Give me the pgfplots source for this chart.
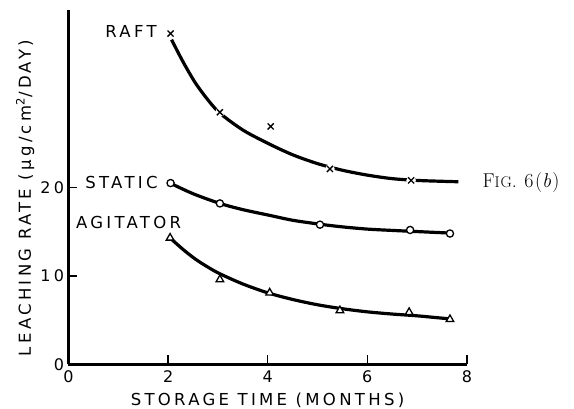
\documentclass[border=0pt]{standalone}
\usepackage{pgfplots}
\pgfplotsset{compat=1.18}
\usepackage{fontspec}
\newfontfamily\lab[LetterSpace=20]{DejaVu Sans}
\newfontfamily\figfont[LetterSpace=7]{Latin Modern Roman}
\begin{document}
\begin{tikzpicture}
\useasboundingbox (-68.5pt,-44.5pt) rectangle (505.5pt,364.5pt);
\begin{axis}[
  at={(0,0)}, anchor=south west,
  scale only axis, width=398.4pt, height=354pt,
  xmin=0, xmax=8, ymin=0, ymax=40,
  axis x line*=bottom, axis y line*=left,
  axis line style={-, line width=2.8pt},
  xtick={0,2,4,6,8}, ytick={0,10,20},
  tick align=inside, major tick length=9pt,
  tick style={line width=1.5pt, black},
  /pgf/number format/assume math mode=true,
  ticklabel style={font=\lab\fontsize{16}{16}\selectfont},
  xticklabel style={yshift=-3pt},
  yticklabel style={xshift=-1pt},
  xlabel={STORAGE TIME (MONTHS)},
  ylabel={LEACHING RATE (μg/cm\textsuperscript{2}/DAY)},
  every axis x label/.style={at={(rel axis cs:0.4995,-0.1003)}, anchor=center, font=\lab\fontsize{16.5}{16.5}\selectfont},
  every axis y label/.style={at={(rel axis cs:-0.109,0.470)}, rotate=90, anchor=center, font=\lab\fontsize{16.5}{16.5}\selectfont},
  clip=false,
]
% fitted curves
\addplot[smooth, line width=3.2pt] coordinates {
 (2.07,36.7) (2.3,34.2) (2.55,31.8) (2.8,29.9) (3.04,28.4) (3.5,26.5) (4.0,25.0) (4.5,23.7) (5.0,22.7) (5.5,21.95) (6.0,21.4) (6.5,21.0) (7.0,20.8) (7.5,20.7) (7.83,20.65)};
\addplot[smooth, line width=3.2pt] coordinates {
 (2.04,20.5) (2.5,19.3) (3.04,18.2) (3.5,17.5) (4.04,16.85) (4.5,16.3) (5.05,15.85) (5.5,15.55) (6.0,15.3) (6.5,15.15) (7.0,15.02) (7.66,14.85)};
\addplot[smooth, line width=3.2pt] coordinates {
 (2.04,14.3) (2.3,13.0) (2.55,11.9) (2.8,11.0) (3.04,10.25) (3.5,9.1) (4.0,8.1) (4.5,7.35) (5.0,6.75) (5.5,6.3) (6.0,5.95) (6.5,5.7) (7.0,5.5) (7.66,5.15)};
% measured points
\addplot[only marks, mark=*, mark size=4.5pt, mark options={fill=white, draw=white}] coordinates {
 (2.05,37.4) (3.04,28.5) (5.25,22.1) (6.88,20.8)};
\addplot[only marks, mark=x, mark size=4.3pt, mark options={line width=1.3pt, black}] coordinates {
 (2.05,37.4) (3.04,28.5) (4.06,26.9) (5.25,22.1) (6.88,20.8)};
\addplot[only marks, mark=*, mark size=3.6pt, mark options={fill=white, draw=black, line width=1.3pt}] coordinates {
 (2.05,20.5) (3.04,18.2) (5.05,15.8) (6.86,15.2) (7.66,14.8)};
\addplot[only marks, mark=triangle*, mark size=4.4pt, mark options={fill=white, draw=black, line width=1.3pt}] coordinates {
 (2.04,14.3) (3.04,9.6) (4.04,8.1) (5.45,6.1) (6.84,5.9) (7.66,5.1)};
\node[anchor=east, font=\lab\fontsize{16.5}{16.5}\selectfont] at (axis cs:1.84,37.6) {RAFT};
\node[anchor=east, font=\lab\fontsize{16.5}{16.5}\selectfont] at (axis cs:1.86,20.6) {STATIC};
\node[anchor=west, font=\lab\fontsize{16.5}{16.5}\selectfont] at (axis cs:0.08,16.1) {AGITATOR};
\node[anchor=west, inner sep=0pt, font=\figfont\fontsize{20}{22}\selectfont] at (axis cs:8.31,20.6) {F{\fontsize{15.5}{18}\selectfont IG}. 6(\textit{b})};
\end{axis}
\end{tikzpicture}
\end{document}
